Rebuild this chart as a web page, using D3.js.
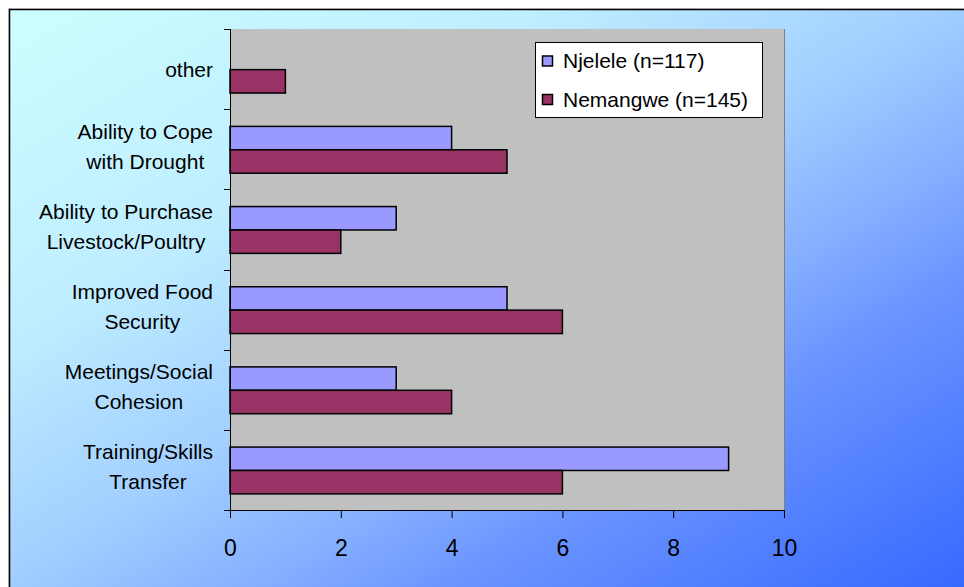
<!DOCTYPE html>
<html>
<head>
<meta charset="utf-8">
<script src="https://cdn.jsdelivr.net/npm/d3@7"></script>
<style>
  html, body { margin: 0; padding: 0; background: #ffffff; }
  svg { display: block; font-family: "Liberation Sans", Arial, sans-serif; }
</style>
</head>
<body>
<svg id="chart" width="964" height="587"></svg>
<script>
// Categories, top to bottom; each label may wrap onto two lines
const categories = [
  "other",
  "Ability to Cope with Drought",
  "Ability to Purchase Livestock/Poultry",
  "Improved Food Security",
  "Meetings/Social Cohesion",
  "Training/Skills Transfer"
];
const categoryLines = [
  ["other"],
  ["Ability to Cope", "with Drought"],
  ["Ability to Purchase", "Livestock/Poultry"],
  ["Improved Food", "Security"],
  ["Meetings/Social", "Cohesion"],
  ["Training/Skills", "Transfer"]
];
const seriesNames = ["Njelele (n=117)", "Nemangwe (n=145)"];
const njelele   = [null, 4, 3, 5, 3, 9];
const nemangwe  = [1, 5, 2, 6, 4, 6];
const xTicks = [0, 2, 4, 6, 8, 10];
const seriesColors = ["#9999FF", "#993366"];

const svg = d3.select("#chart");

// Background gradient of the chart area
const defs = svg.append("defs");
const grad = defs.append("linearGradient")
  .attr("id", "bg").attr("x1", 0).attr("y1", 0).attr("x2", 1).attr("y2", 1);
[[0, "#CCFFFF"], [0.28, "#BFEDFF"], [0.48, "#A2CFFF"], [0.62, "#84AEFF"],
 [0.72, "#6A94FF"], [1, "#3366FF"]].forEach(([o, c]) =>
  grad.append("stop").attr("offset", o).attr("stop-color", c));

svg.append("rect").attr("x", 8).attr("y", 8).attr("width", 980).attr("height", 600)
  .attr("fill", "#d8d8d8");
svg.append("rect").attr("x", 9.5).attr("y", 9.5).attr("width", 970).attr("height", 590)
  .attr("fill", "url(#bg)").attr("stroke", "#000").attr("stroke-width", 1.5);

// Plot area
const plot = { left: 230, right: 784, top: 29, bottom: 510 };
const x = d3.scaleLinear().domain([0, 10]).range([plot.left, plot.right]);
const y = d3.scaleBand().domain(categories).range([plot.top, plot.bottom]);
const bw = y.bandwidth();

svg.append("rect")
  .attr("x", plot.left).attr("y", plot.top)
  .attr("width", plot.right - plot.left).attr("height", plot.bottom - plot.top)
  .attr("fill", "#C0C0C0");
svg.append("line")
  .attr("x1", plot.right + 0.5).attr("x2", plot.right + 0.5)
  .attr("y1", plot.top).attr("y2", plot.bottom)
  .attr("stroke", "#808080").attr("stroke-width", 1);

// Bars
const series = [njelele, nemangwe];
const barH = bw * 0.292;
const barOff = bw * 0.215;
series.forEach((vals, si) => {
  svg.append("g").selectAll("rect")
    .data(categories.map((c, i) => ({ c, v: vals[i] })).filter(d => d.v != null))
    .join("rect")
    .attr("x", x(0))
    .attr("y", d => y(d.c) + barOff + si * barH)
    .attr("width", d => x(d.v) - x(0))
    .attr("height", barH)
    .attr("fill", seriesColors[si])
    .attr("stroke", "#000").attr("stroke-width", 1.5);
});

// Value axis
const xAxis = d3.axisBottom(x).tickValues(xTicks).tickSize(8).tickPadding(22)
  .tickFormat(d3.format("d"));
const gx = svg.append("g").attr("transform", `translate(0,${plot.bottom})`).call(xAxis);
gx.select(".domain").attr("d", `M${plot.left - 6},0.5H${plot.right}`).attr("stroke", "#000");
gx.selectAll(".tick line").attr("stroke", "#000");
gx.selectAll(".tick text").attr("font-size", 23).attr("fill", "#000")
  .attr("font-family", "'Liberation Sans', Arial, sans-serif");

// Category axis: line and boundary ticks
svg.append("line")
  .attr("x1", plot.left + 0.5).attr("x2", plot.left + 0.5)
  .attr("y1", plot.top).attr("y2", plot.bottom + 8)
  .attr("stroke", "#000");
const bounds = categories.map(c => y(c)).concat([plot.bottom]);
svg.append("g").selectAll("line").data(bounds).join("line")
  .attr("x1", plot.left - 6).attr("x2", plot.left)
  .attr("y1", d => Math.round(d) + 0.5).attr("y2", d => Math.round(d) + 0.5)
  .attr("stroke", "#000");

// Category labels: block right-aligned, lines centred within it
const labelRight = 213;
categories.forEach((c, i) => {
  const lines = categoryLines[i];
  const cy = y(c) + bw / 2;
  const g = svg.append("g");
  const texts = lines.map((ln, li) => g.append("text")
    .attr("font-size", 21).attr("fill", "#000")
    .attr("text-anchor", "middle")
    .attr("y", lines.length === 1 ? cy + 8 : cy - 10.5 + li * 30)
    .text(ln));
  const maxW = d3.max(texts, t => t.node().getComputedTextLength());
  texts.forEach(t => t.attr("x", labelRight - maxW / 2));
});

// Legend
const leg = svg.append("g");
leg.append("rect").attr("x", 535.5).attr("y", 42.5).attr("width", 227).attr("height", 75)
  .attr("fill", "#fff").attr("stroke", "#000").attr("stroke-width", 1);
seriesNames.forEach((name, i) => {
  const ry = 61 + i * 38.5;
  leg.append("rect").attr("x", 542.5).attr("y", ry - 5).attr("width", 10).attr("height", 10)
    .attr("fill", seriesColors[i]).attr("stroke", "#000").attr("stroke-width", 1.5);
  leg.append("text").attr("x", 563).attr("y", ry + 7)
    .attr("font-size", 21).attr("fill", "#000").text(name);
});
</script>
</body>
</html>
